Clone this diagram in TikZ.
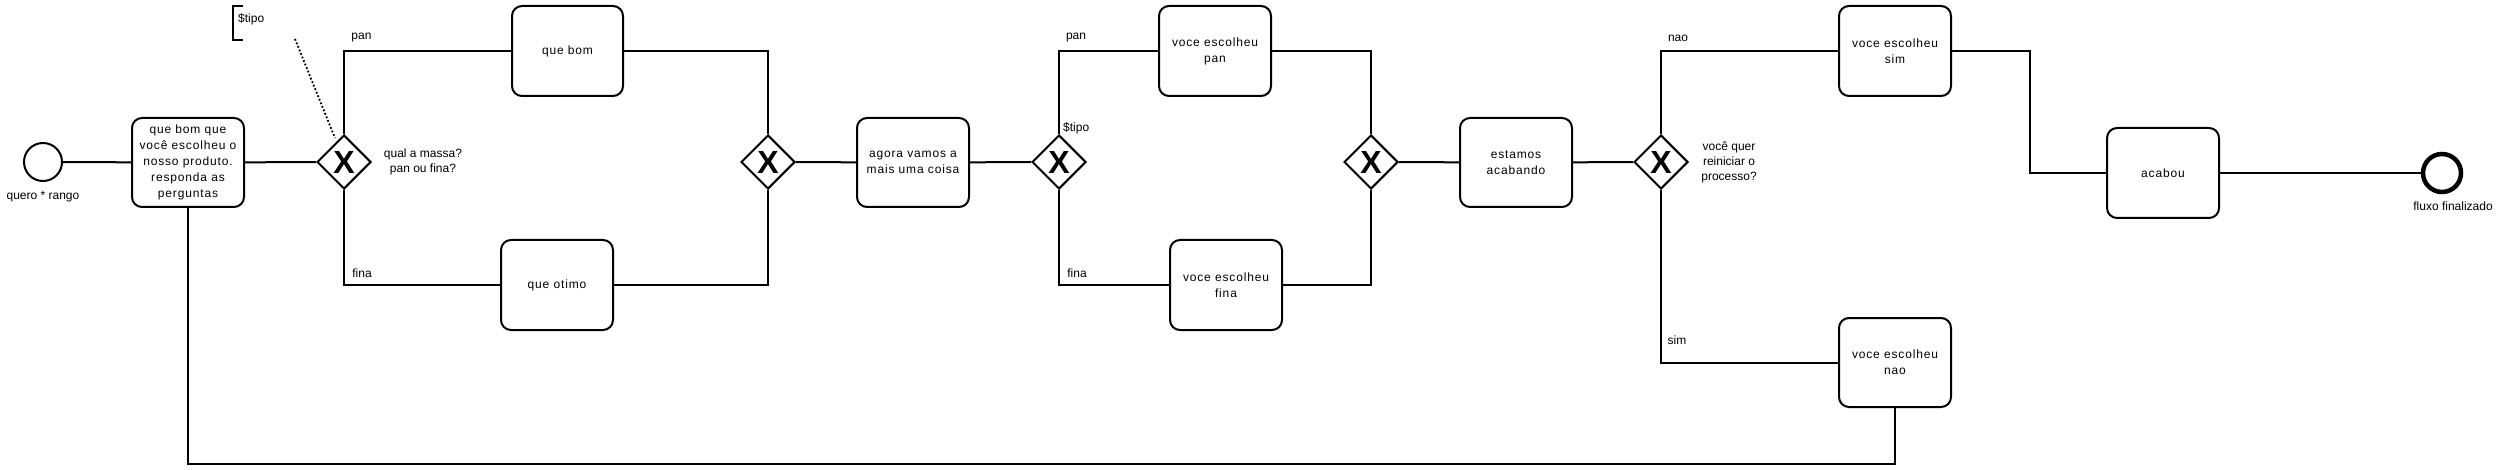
\documentclass[tikz,border=0pt]{standalone}
\usepackage{fontspec}
\setmainfont{Liberation Sans}
\newfontfamily\boxfont{Liberation Sans}[LetterSpace=7]
\usetikzlibrary{shapes.geometric,calc}
\begin{document}
\begin{tikzpicture}[x=1pt,y=-1pt,
  task/.style={draw, line width=2pt, rounded corners=10pt, fill=white, align=center, font=\boxfont\fontsize{12}{16}\selectfont, inner sep=0pt, minimum width=112pt, minimum height=90pt},
  gw/.style={draw, diamond, line width=2pt, minimum width=54pt, minimum height=54pt, inner sep=0pt, fill=white, font=\fontsize{32}{32}\selectfont\bfseries},
  lbl/.style={font=\fontsize{12}{15}\selectfont, align=center, inner sep=0pt},
  flow/.style={line width=2pt},
  startev/.style={draw, circle, line width=2pt, minimum size=38pt, inner sep=0pt, fill=white},
  endev/.style={draw, circle, line width=4.5pt, minimum size=38pt, inner sep=0pt, fill=white},
]
\useasboundingbox (0,0) rectangle (2500,470);
\fill[white] (0,0) rectangle (2500,470);

% events
\node[startev] (start) at (43,162) {};
\node[lbl] (startlbl) at (43,197) {quero * rango};
\node[endev] (end) at (2442,173) {};
\node[lbl] (endlbl) at (2453,206) {fluxo finalizado};

% tasks
\node[task, minimum height=89pt] (t1) at (188,162.5) {que bom que\\você escolheu o\\nosso produto.\\responda as\\perguntas};
\node[task, minimum width=111pt] (qb) at (567.5,51) {que bom};
\node[task] (qo) at (557,285) {que otimo};
\node[task, minimum height=89pt] (agora) at (913,162.5) {agora vamos a\\mais uma coisa};
\node[task] (vep) at (1215,51) {voce escolheu\\pan};
\node[task] (vef) at (1226,285) {voce escolheu\\fina};
\node[task, minimum height=89pt] (est) at (1516,162.5) {estamos\\acabando};
\node[task] (ves) at (1895,51) {voce escolheu\\sim};
\node[task, minimum height=89pt] (ven) at (1895,362.5) {voce escolheu\\nao};
\node[task] (acabou) at (2163,173) {acabou};

% gateways
\node[gw] (g1) at (344,162) {X};
\node[gw] (g2) at (768,162) {X};
\node[gw] (g3) at (1059,162) {X};
\node[gw] (g4) at (1371,162) {X};
\node[gw] (g5) at (1661,162) {X};

% gateway labels
\node[lbl] (g1lbl) at (423,162) {qual a massa?\\pan ou fina?};
\node[lbl] (g5lbl) at (1729,162) {você quer\\reiniciar o\\processo?};
\node[lbl, anchor=west] (g3lbl) at (1063,128) {\$tipo};

% annotation
\draw[line width=2pt] (243,6) -- (233,6) -- (233,40) -- (243,40);
\node[lbl, anchor=west] (ann) at (238,19) {\$tipo};
\coordinate (assocA) at (295,39);
\coordinate (assocB) at (335,138);
\draw[line width=1.8pt, dotted] (assocA) -- (assocB);

% flows
\draw[flow] (start) -- (t1);
\draw[flow] (t1) -- (g1);
\draw[flow] (g1.north) |- (qb.west);
\draw[flow] (g1.south) |- (qo.west);
\draw[flow] (qb.east) -| (g2.north);
\draw[flow] (qo.east) -| (g2.south);
\draw[flow] (g2) -- (agora);
\draw[flow] (agora) -- (g3);
\draw[flow] (g3.north) |- (vep.west);
\draw[flow] (g3.south) |- (vef.west);
\draw[flow] (vep.east) -| (g4.north);
\draw[flow] (vef.east) -| (g4.south);
\draw[flow] (g4) -- (est);
\draw[flow] (est) -- (g5);
\draw[flow] (g5.north) |- (ves.west);
\draw[flow] (g5.south) |- (ven.west);
\draw[flow] (ves.east) -- ++(78,0) |- (acabou.west);
\draw[flow] (acabou) -- (end);
\draw[flow] (ven.south) -- ++(0,56) -| (t1.south);

% flow labels
\node[lbl] (lpan1) at (361.5,38) {pan};
\node[lbl] (lfina1) at (362,273) {fina};
\node[lbl] (lpan2) at (1076,38) {pan};
\node[lbl] (lfina2) at (1077,273) {fina};
\node[lbl] (lnao) at (1678,38) {nao};
\node[lbl] (lsim) at (1677,340) {sim};
\end{tikzpicture}
\end{document}
